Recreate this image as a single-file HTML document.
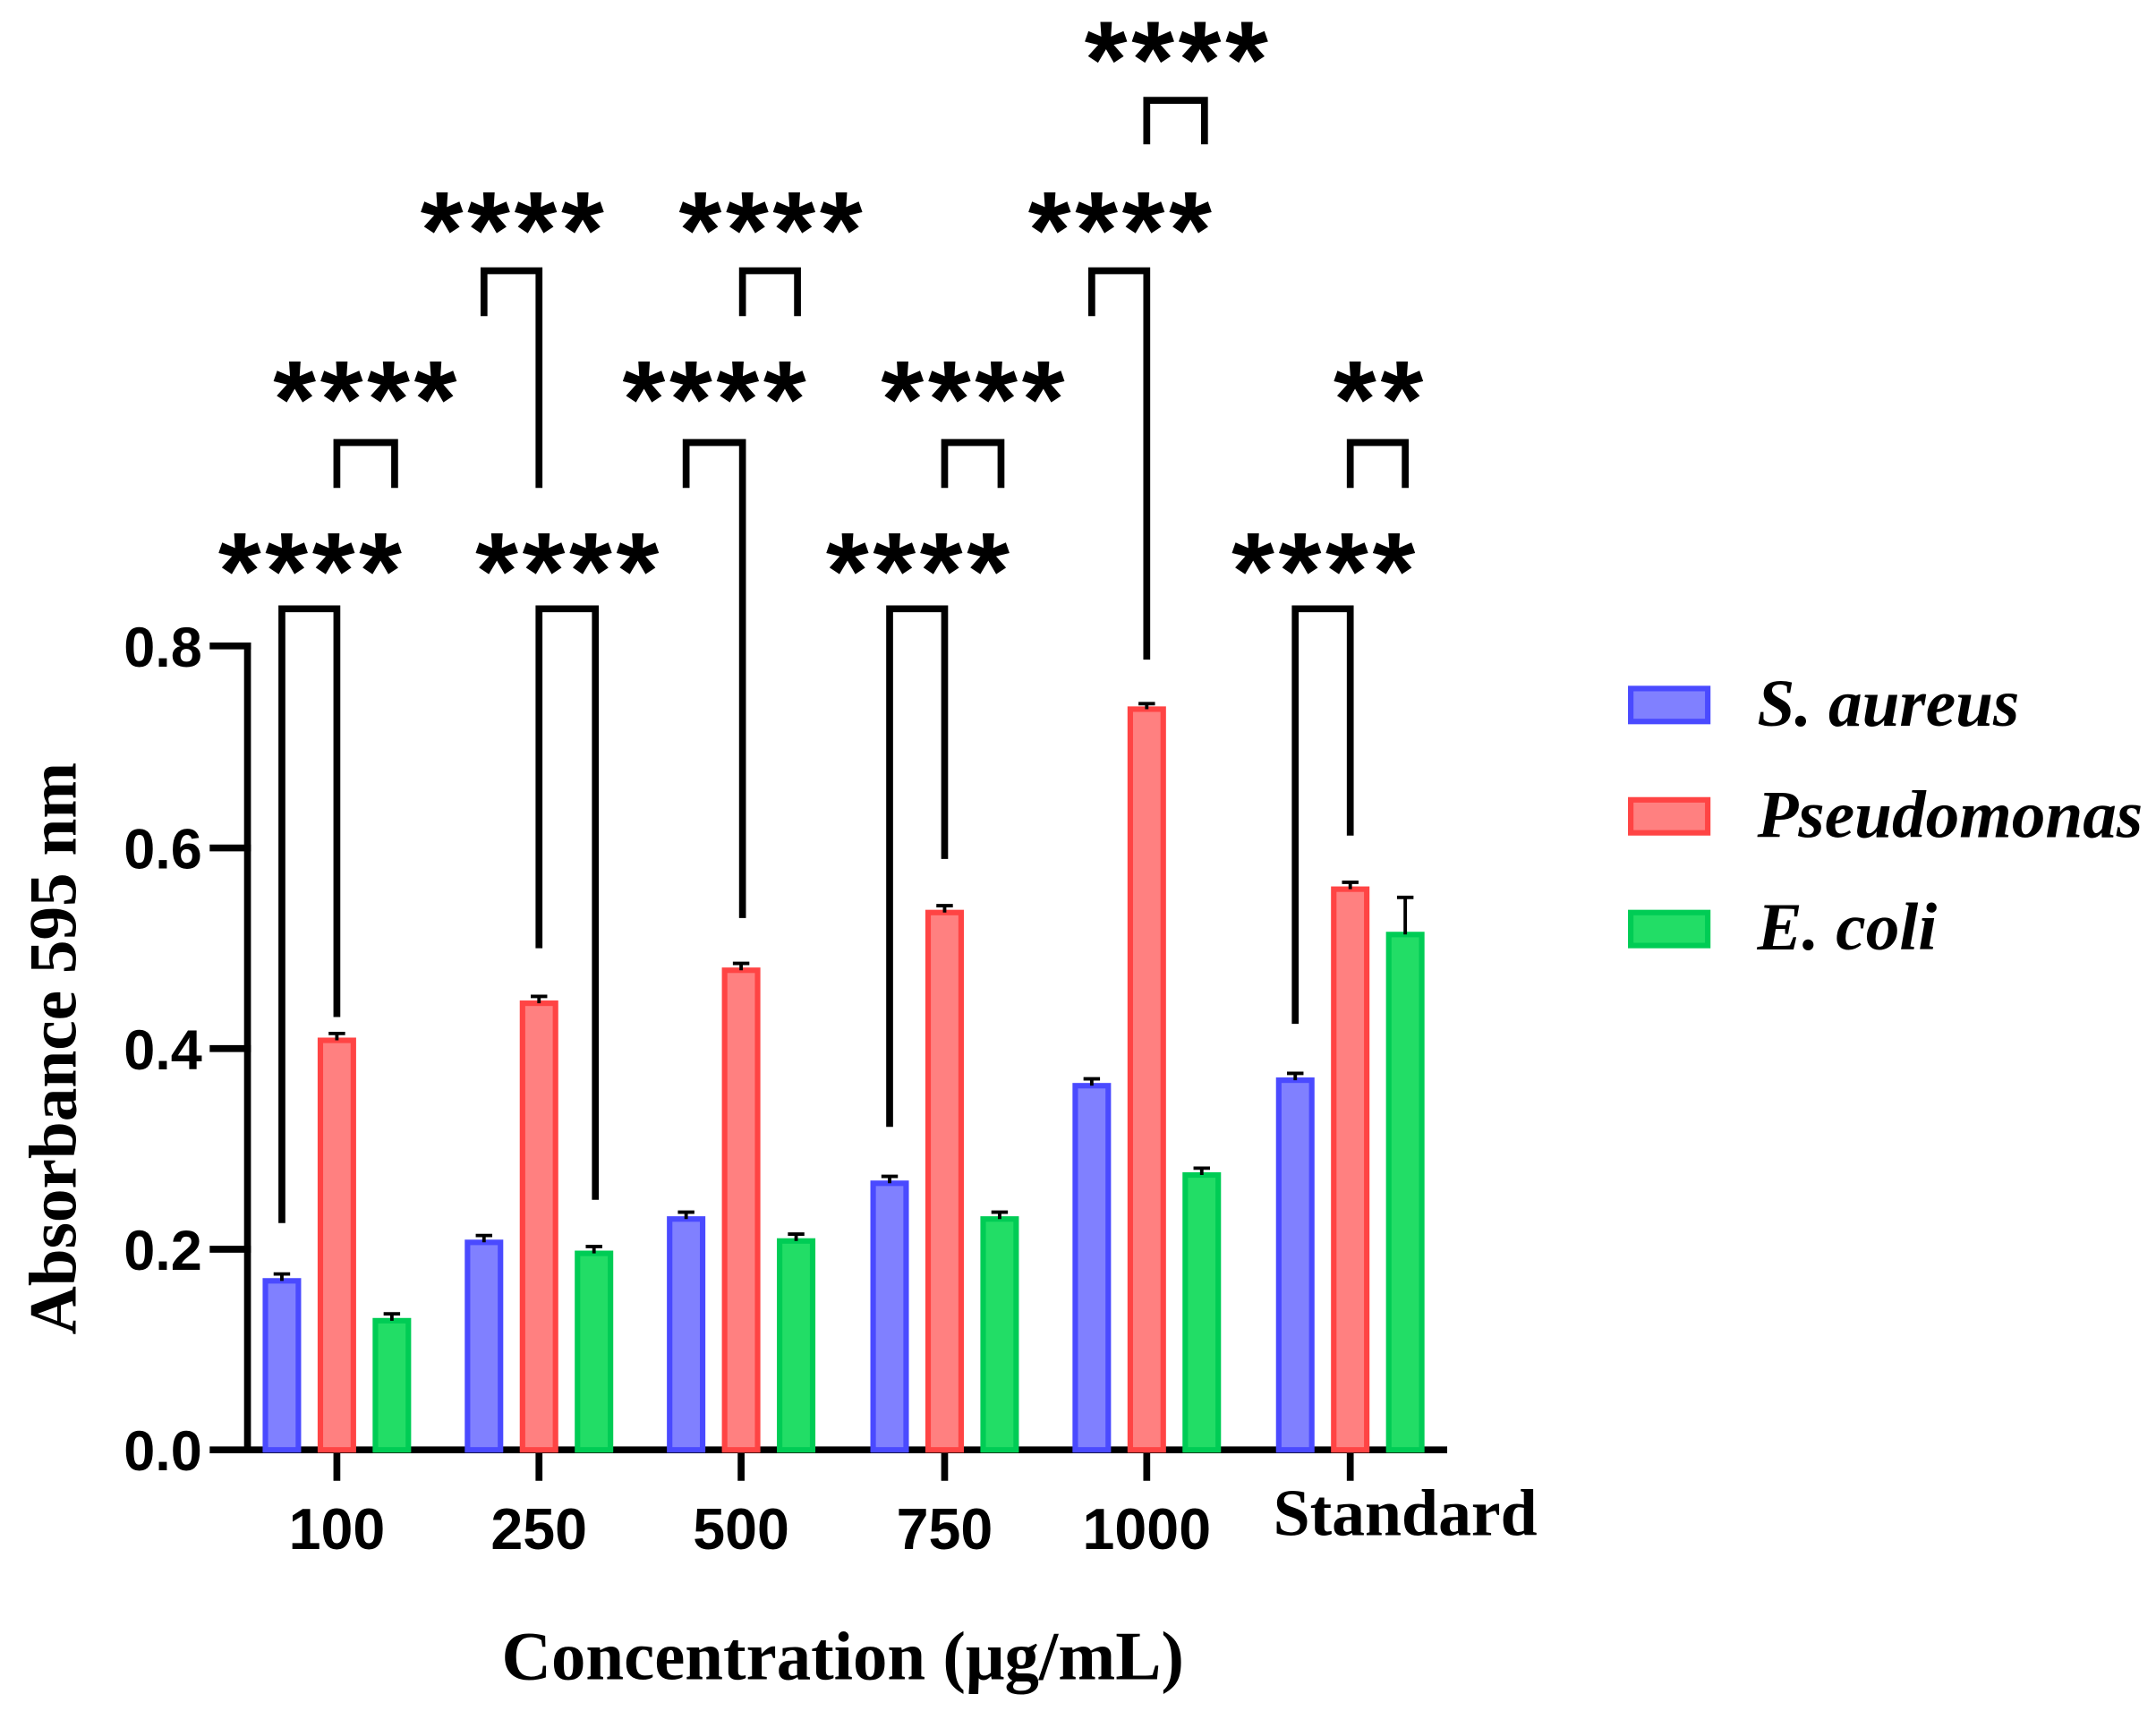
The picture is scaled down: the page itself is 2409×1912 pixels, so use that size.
<!DOCTYPE html>
<html><head><meta charset="utf-8"><style>html,body{margin:0;padding:0;background:#fff}svg{display:block}</style></head>
<body>
<svg width="2409" height="1912" viewBox="0 0 1568 1245" preserveAspectRatio="none" xmlns="http://www.w3.org/2000/svg">
<g stroke="#000" stroke-width="5" fill="none" stroke-linecap="square">
<path d="M180 470 V1055 M155 1055 H1050"/>
<path d="M155 470 H180 M155 617 H180 M155 763 H180 M155 909 H180"/>
<path d="M245 1055 V1075 M392 1055 V1075 M539 1055 V1075 M687 1055 V1075 M834 1055 V1075 M982 1055 V1075"/>
</g>
<g font-family="Liberation Sans, sans-serif" font-weight="bold" font-size="41" text-anchor="end">
<text x="147" y="485">0.8</text><text x="147" y="632">0.6</text><text x="147" y="778">0.4</text><text x="147" y="924">0.2</text><text x="147" y="1070">0.0</text>
</g>
<g font-family="Liberation Sans, sans-serif" font-weight="bold" font-size="42" text-anchor="middle">
<text x="245" y="1127">100</text><text x="392" y="1127">250</text><text x="539" y="1127">500</text><text x="687" y="1127">750</text><text x="834" y="1127">1000</text>
</g>
<text x="1022" y="1117" font-family="Liberation Serif, serif" font-weight="bold" font-size="48" text-anchor="middle">Standard</text>
<text x="613" y="1222" font-family="Liberation Serif, serif" font-weight="bold" font-size="50" text-anchor="middle">Concentration (μg/mL)</text>
<text transform="translate(55 763) rotate(-90)" font-family="Liberation Serif, serif" font-weight="bold" font-size="49" text-anchor="middle">Absorbance 595 nm</text>
<g stroke-width="4">
<g fill="#8080ff" stroke="#4a4aff">
<rect x="193" y="932" width="24" height="123"/><rect x="340" y="904" width="24" height="151"/><rect x="487" y="887" width="24" height="168"/><rect x="635" y="861" width="24" height="194"/><rect x="782" y="790" width="24" height="265"/><rect x="930" y="786" width="24" height="269"/>
</g>
<g fill="#ff8080" stroke="#ff4444">
<rect x="233" y="757" width="24" height="298"/><rect x="380" y="730" width="24" height="325"/><rect x="527" y="706" width="24" height="349"/><rect x="675" y="664" width="24" height="391"/><rect x="822" y="516" width="24" height="539"/><rect x="970" y="647" width="24" height="408"/>
</g>
<g fill="#22dd66" stroke="#00cc55">
<rect x="273" y="961" width="24" height="94"/><rect x="420" y="912" width="24" height="143"/><rect x="567" y="903" width="24" height="152"/><rect x="715" y="887" width="24" height="168"/><rect x="862" y="855" width="24" height="200"/><rect x="1010" y="680" width="24" height="375"/>
</g>
</g>
<g stroke="#000" stroke-width="2.5">
<path d="M205 932 V927 M199 927 H211 M245 757 V752 M239 752 H251 M285 961 V956 M279 956 H291"/>
<path d="M352 904 V899 M346 899 H358 M392 730 V725 M386 725 H398 M432 912 V907 M426 907 H438"/>
<path d="M499 887 V882 M493 882 H505 M539 706 V701 M533 701 H545 M579 903 V898 M573 898 H585"/>
<path d="M647 861 V856 M641 856 H653 M687 664 V659 M681 659 H693 M727 887 V882 M721 882 H733"/>
<path d="M794 790 V785 M788 785 H800 M834 516 V512 M828 512 H840 M874 855 V850 M868 850 H880"/>
<path d="M942 786 V781 M936 781 H948 M982 647 V642 M976 642 H988 M1022 680 V653 M1016 653 H1028"/>
</g>
<g stroke="#000" stroke-width="5" fill="none">
<path d="M205 890 V443 H245 V740"/><path d="M245 355 V322 H287 V355"/>
<path d="M392 690 V443 H433 V873"/><path d="M352 230 V197 H392 V355"/>
<path d="M499 355 V322 H540 V668"/><path d="M540 230 V197 H580 V230"/>
<path d="M647 820 V443 H687 V625"/><path d="M687 355 V322 H728 V355"/>
<path d="M794 230 V197 H834 V480"/><path d="M834 105 V73 H876 V105"/>
<path d="M942 745 V443 H982 V608"/><path d="M982 355 V322 H1022 V355"/>
</g>
<g font-family="Liberation Sans, sans-serif" font-weight="bold" font-size="80" text-anchor="middle" letter-spacing="3">
<text x="227" y="443">****</text><text x="267" y="318">****</text>
<text x="414" y="443">****</text><text x="374" y="195">****</text>
<text x="521" y="318">****</text><text x="562" y="195">****</text>
<text x="669" y="443">****</text><text x="709" y="318">****</text>
<text x="816" y="195">****</text><text x="857" y="71">****</text>
<text x="964" y="443">****</text><text x="1004" y="318">**</text>
</g>
<g stroke-width="4">
<rect x="1186" y="501" width="56" height="24" fill="#8080ff" stroke="#4a4aff"/>
<rect x="1186" y="582" width="56" height="24" fill="#ff8080" stroke="#ff4444"/>
<rect x="1186" y="664" width="56" height="24" fill="#22dd66" stroke="#00cc55"/>
</g>
<g font-family="Liberation Serif, serif" font-weight="bold" font-style="italic" font-size="49">
<text x="1278" y="528">S. aureus</text><text x="1278" y="609">Pseudomonas</text><text x="1278" y="691">E. coli</text>
</g>
</svg>
</body></html>
